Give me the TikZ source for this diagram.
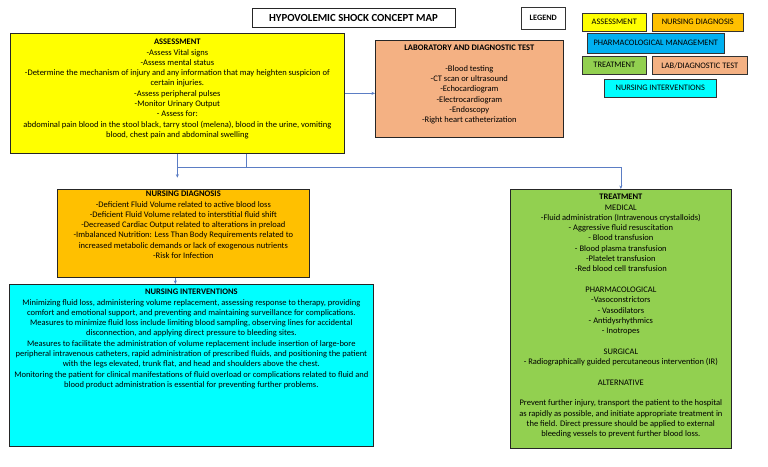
\documentclass[tikz,border=0pt]{standalone}
\usepackage{fontspec}
\setmainfont{Carlito}
\usepackage{xcolor}
\usetikzlibrary{arrows.meta, positioning}
\definecolor{assessyellow}{HTML}{FFFF00}
\definecolor{diagorange}{HTML}{FFC000}
\definecolor{labpeach}{HTML}{F4B183}
\definecolor{treatgreen}{HTML}{92D050}
\definecolor{intercyan}{HTML}{00FFFF}
\definecolor{pharmblue}{HTML}{00B0F0}
\definecolor{linkblue}{HTML}{5B7DC4}

\begin{document}
\begin{tikzpicture}[x=1pt, y=-1pt, >={Stealth[length=3.5pt, width=3pt]},
    box/.style={rectangle, draw=black!85, line width=0.7pt, anchor=north west, inner sep=0pt},
    boxtext/.style={anchor=north, align=center, inner sep=0pt, font=\fontsize{8.5}{10.3}\selectfont},
    key/.style={rectangle, draw=black!80, line width=0.6pt, anchor=north west, inner sep=0pt, font=\fontsize{8.4}{9}\selectfont},
    link/.style={draw=linkblue, line width=0.6pt}]

    \useasboundingbox (0,0) rectangle (768,466);

    % title and legend
    \node[rectangle, draw=black!85, line width=0.7pt, minimum width=203pt, minimum height=19pt, font=\fontsize{10.8}{12}\selectfont\bfseries] (title) at (353.5,17.5) {HYPOVOLEMIC SHOCK CONCEPT MAP};
    \node[key, minimum width=44pt, minimum height=22pt, font=\fontsize{8.2}{9}\selectfont\bfseries] (legend) at (521,7) {LEGEND};
    \node[key, fill=assessyellow, minimum width=64pt, minimum height=18pt] (kassess) at (582,13) {ASSESSMENT};
    \node[key, fill=diagorange, minimum width=91pt, minimum height=18pt] (kdiag) at (652,13) {NURSING DIAGNOSIS};
    \node[key, fill=pharmblue, minimum width=137pt, minimum height=20pt] (kpharm) at (587,33) {PHARMACOLOGICAL MANAGEMENT};
    \node[key, fill=treatgreen, minimum width=64pt, minimum height=18pt] (ktreat) at (582,56) {TREATMENT};
    \node[key, fill=labpeach, minimum width=95pt, minimum height=18pt] (klab) at (652,56) {LAB/DIAGNOSTIC TEST};
    \node[key, fill=intercyan, minimum width=112pt, minimum height=18pt] (kinter) at (604,79) {NURSING INTERVENTIONS};

    % boxes
    \node[box, fill=assessyellow, minimum width=334pt, minimum height=120pt] (assess) at (10,33) {};
    \node[box, fill=labpeach, minimum width=188pt, minimum height=97pt] (lab) at (375,40) {};
    \node[box, fill=diagorange, minimum width=252pt, minimum height=88pt] (diag) at (57,189) {};
    \node[box, fill=intercyan, minimum width=364pt, minimum height=162pt] (inter) at (9,284) {};
    \node[box, fill=treatgreen, minimum width=221pt, minimum height=259pt] (treat) at (510,189) {};

    % texts
    \node[boxtext] (assesstxt) at ([yshift=-6pt]assess.north) {\textbf{ASSESSMENT}\\
        -Assess Vital signs\\
        -Assess mental status\\
        -Determine the mechanism of injury and any information that may heighten suspicion of\\
        certain injuries.\\
        -Assess peripheral pulses\\
        -Monitor Urinary Output\\
        - Assess for:\\
        abdominal pain blood in the stool black, tarry stool (melena), blood in the urine, vomiting\\
        blood, chest pain and abdominal swelling};
    \node[boxtext] (labtxt) at ([yshift=-5pt]lab.north) {\textbf{LABORATORY AND DIAGNOSTIC TEST}\\[10.3pt]
        -Blood testing\\
        -CT scan or ultrasound\\
        -Echocardiogram\\
        -Electrocardiogram\\
        -Endoscopy\\
        -Right heart catheterization};
    \node[boxtext] (diagtxt) at ([yshift=-2pt]diag.north) {\textbf{NURSING DIAGNOSIS}\\
        -Deficient Fluid Volume related to active blood loss\\
        -Deficient Fluid Volume related to interstitial fluid shift\\
        -Decreased Cardiac Output related to alterations in preload\\
        -Imbalanced Nutrition: Less Than Body Requirements related to\\
        increased metabolic demands or lack of exogenous nutrients\\
        -Risk for Infection};
    \node[boxtext] (intertxt) at ([yshift=-5pt]inter.north) {\textbf{NURSING INTERVENTIONS}\\
        Minimizing fluid loss, administering volume replacement, assessing response to therapy, providing\\
        comfort and emotional support, and preventing and maintaining surveillance for complications.\\
        Measures to minimize fluid loss include limiting blood sampling, observing lines for accidental\\
        disconnection, and applying direct pressure to bleeding sites.\\
        Measures to facilitate the administration of volume replacement include insertion of large-bore\\
        peripheral intravenous catheters, rapid administration of prescribed fluids, and positioning the patient\\
        with the legs elevated, trunk flat, and head and shoulders above the chest.\\
        Monitoring the patient for clinical manifestations of fluid overload or complications related to fluid and\\
        blood product administration is essential for preventing further problems.};
    \node[boxtext] (treattxt) at ([yshift=-5pt]treat.north) {\textbf{TREATMENT}\\
        MEDICAL\\
        -Fluid administration (Intravenous crystalloids)\\
        - Aggressive fluid resuscitation\\
        - Blood transfusion\\
        - Blood plasma transfusion\\
        -Platelet transfusion\\
        -Red blood cell transfusion\\[10.3pt]
        PHARMACOLOGICAL\\
        -Vasoconstrictors\\
        - Vasodilators\\
        - Antidysrhythmics\\
        - Inotropes\\[10.3pt]
        SURGICAL\\
        - Radiographically guided percutaneous intervention (IR)\\[10.3pt]
        ALTERNATIVE\\[10.3pt]
        Prevent further injury, transport the patient to the hospital\\
        as rapidly as possible, and initiate appropriate treatment in\\
        the field. Direct pressure should be applied to external\\
        bleeding vessels to prevent further blood loss.};

    % connectors
    \coordinate (fork) at ([yshift=-14pt]assess.south);
    \coordinate (diagtip) at ([yshift=-24pt]assess.south);
    \draw[link, ->] (assess.east) -- (assess.east -| lab.west);
    \draw[link, ->] (assess.south) -- (diagtip);
    \draw[link] ([xshift=69pt]assess.south) -- ([xshift=69pt]fork);
    \draw[link, ->] (fork) -| (treat.north);
    \draw[link, ->] ([xshift=-8pt]diag.south) -- ([xshift=-8pt]diag.south |- inter.north);

\end{tikzpicture}
\end{document}
